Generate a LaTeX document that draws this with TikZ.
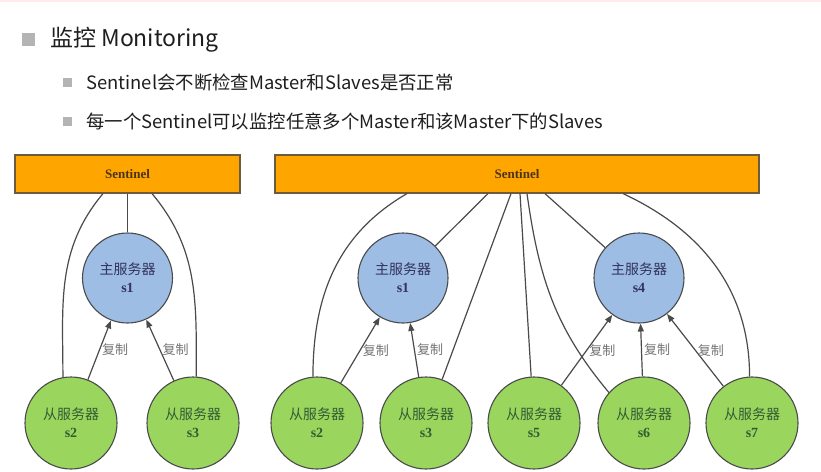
\documentclass[tikz,border=0pt]{standalone}
\usepackage{fontspec}
\setmainfont{Noto Sans CJK SC}
\newfontfamily\tms{Liberation Serif}
\usetikzlibrary{arrows.meta}

\definecolor{sentorange}{HTML}{FFA500}
\definecolor{sentborder}{HTML}{6E5A3C}
\definecolor{masterblue}{HTML}{9DBDE4}
\definecolor{slavegreen}{HTML}{9AD65E}
\definecolor{edgegray}{HTML}{4A4A4A}
\definecolor{bulletgray}{HTML}{B4B4B4}
\definecolor{bodytext}{HTML}{1E1E1E}

\tikzset{
  sentinel/.style={draw=sentborder, fill=sentorange, line width=1.2pt, minimum height=38pt,
    inner sep=0pt, font=\tms\bfseries\fontsize{13}{13}\selectfont, text=brown!40!black},
  master/.style={circle, draw=edgegray, fill=masterblue, line width=1.1pt, minimum size=90pt,
    inner sep=0pt, align=center, font=\fontsize{14}{18}\selectfont, text=blue!20!black!80},
  slave/.style={circle, draw=edgegray, fill=slavegreen, line width=1.1pt, minimum size=92pt,
    inner sep=0pt, align=center, font=\fontsize{14}{18}\selectfont, text=green!20!black!80},
  link/.style={draw=edgegray, line width=1.2pt},
  repl/.style={link, -{Triangle[length=8pt,width=6pt]}},
  copylbl/.style={right, inner sep=2pt, font=\fontsize{13}{13}\selectfont, text=black!55},
}

\begin{document}
\begin{tikzpicture}[x=1pt, y=-1pt]
    \useasboundingbox (0,0) rectangle (821,471);
    \fill[red!8] (0,0) rectangle (821,2);

    % Bullets
    \fill[bulletgray] (22,33) rectangle (35,46);
    \node[anchor=west, inner sep=0pt, text=bodytext, font=\fontsize{23}{23}\selectfont] (title) at (50,40) {监控 Monitoring};
    \fill[bulletgray] (63,78) rectangle (72,87);
    \node[anchor=west, inner sep=0pt, text=bodytext, font=\fontsize{18.4}{18.4}\selectfont] (item1) at (86,82) {Sentinel会不断检查Master和Slaves是否正常};
    \fill[bulletgray] (63,117) rectangle (72,126);
    \node[anchor=west, inner sep=0pt, text=bodytext, font=\fontsize{18.4}{18.4}\selectfont] (item2) at (86,121) {每一个Sentinel可以监控任意多个Master和该Master下的Slaves};

    % Left: one master
    \node[sentinel, minimum width=225pt] (sentA) at (127.5,174) {Sentinel};
    \node[master] (mA1) at (127.5,278) {主服务器\\{\tms\bfseries s1}};
    \node[slave] (sA2) at (71,423) {从服务器\\{\tms\bfseries s2}};
    \node[slave] (sA3) at (193,423) {从服务器\\{\tms\bfseries s3}};

    \draw[link] (sentA.south) -- (mA1);
    \draw[link] ([xshift=-24.5pt]sentA.south) to[out=-130, in=90] (sA2.100);
    \draw[link] ([xshift=24.5pt]sentA.south) to[out=-50, in=90] (sA3.86);
    \draw[repl] (sA2) -- node[copylbl] {复制} (mA1);
    \draw[repl] (sA3) -- node[copylbl] {复制} (mA1);

    % Right: two masters
    \node[sentinel, minimum width=484pt] (sentB) at (517,174) {Sentinel};
    \node[master] (mB1) at (403,278) {主服务器\\{\tms\bfseries s1}};
    \node[master] (mB4) at (639,278) {主服务器\\{\tms\bfseries s4}};
    \node[slave] (sB2) at (317,423) {从服务器\\{\tms\bfseries s2}};
    \node[slave] (sB3) at (426,423) {从服务器\\{\tms\bfseries s3}};
    \node[slave] (sB5) at (534,423) {从服务器\\{\tms\bfseries s5}};
    \node[slave] (sB6) at (644,423) {从服务器\\{\tms\bfseries s6}};
    \node[slave] (sB7) at (752,423) {从服务器\\{\tms\bfseries s7}};

    \draw[link] ([xshift=-110pt]sentB.south) to[out=-150, in=90] (sB2.95);
    \draw[link] ([xshift=-29pt]sentB.south) -- (mB1);
    \draw[link] ([xshift=-6pt]sentB.south) -- (sB3);
    \draw[link] ([xshift=3pt]sentB.south) -- (sB5);
    \draw[link] ([xshift=10pt]sentB.south) to[out=-82, in=130] (sB6.139);
    \draw[link] ([xshift=28pt]sentB.south) -- (mB4);
    \draw[link] ([xshift=106pt]sentB.south) to[out=-25, in=90] (sB7.93);
    \draw[repl] (sB2) -- node[copylbl] {复制} (mB1);
    \draw[repl] (sB3) -- node[copylbl] {复制} (mB1);
    \draw[repl] (sB5) -- node[copylbl] {复制} (mB4);
    \draw[repl] (sB6) -- node[copylbl] {复制} (mB4);
    \draw[repl] (sB7) -- node[copylbl] {复制} (mB4);
\end{tikzpicture}
\end{document}
